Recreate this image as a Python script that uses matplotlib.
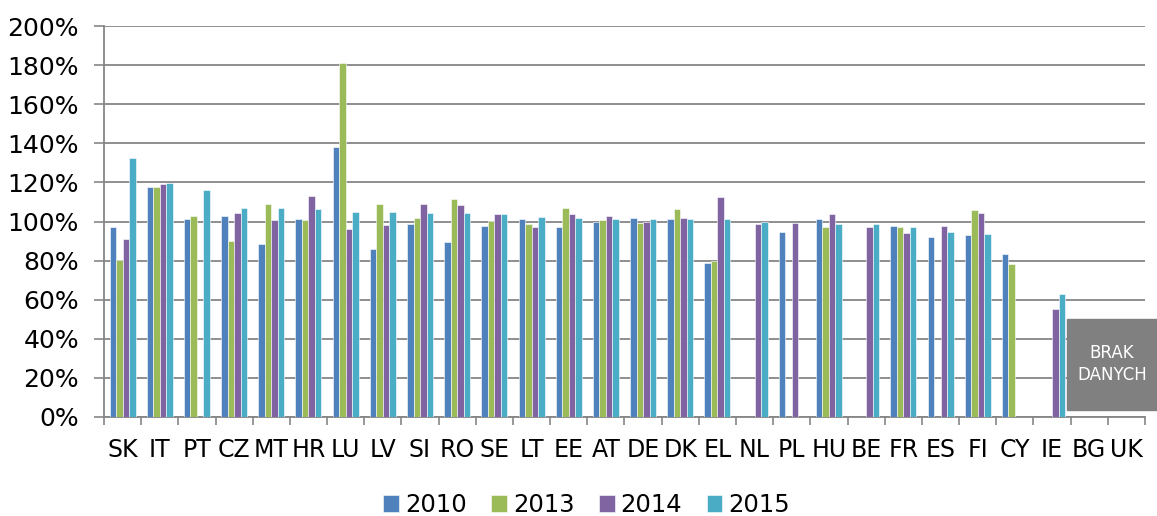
import numpy as np
import matplotlib.pyplot as plt
from matplotlib.patches import Rectangle

countries = ["SK", "IT", "PT", "CZ", "MT", "HR", "LU", "LV", "SI", "RO", "SE",
             "LT", "EE", "AT", "DE", "DK", "EL", "NL", "PL", "HU", "BE", "FR",
             "ES", "FI", "CY", "IE", "BG", "UK"]
nan = np.nan
v2010 = [97.3, 117.7, 101.4, 102.9, 88.3, 101.5, 138.1, 86.1, 98.6, 89.5, 97.6,
         101.5, 97.3, 100.0, 101.9, 101.4, 78.6, nan, 94.7, 101.4, nan, 97.8,
         92.2, 92.9, 83.5, nan, nan, nan]
v2013 = [80.4, 117.7, 102.7, 89.8, 109.2, 100.9, 181.1, 109.0, 102.0, 111.7, 100.5,
         98.5, 107.1, 100.7, 99.3, 106.6, 79.8, nan, nan, 97.4, nan, 97.1,
         nan, 106.0, 78.1, nan, nan, nan]
v2014 = [91.3, 119.0, nan, 104.4, 101.0, 113.1, 96.4, 98.1, 108.7, 108.3, 103.6,
         97.1, 103.9, 102.6, 100.0, 101.9, 112.6, 98.6, 99.0, 103.9, 97.4, 93.9,
         97.6, 104.3, nan, 55.3, nan, nan]
v2015 = [132.5, 119.7, 116.0, 107.0, 107.0, 106.6, 105.1, 105.1, 104.6, 104.4, 103.6,
         102.2, 101.7, 101.5, 101.4, 101.4, 101.2, 99.8, nan, 98.5, 98.5, 97.3,
         94.4, 93.7, nan, 62.9, nan, nan]
years = ["2010", "2013", "2014", "2015"]
colors = ["#4F81BD", "#9BBB59", "#8064A2", "#4BACC6"]

fig = plt.figure(figsize=(11.57, 5.16), dpi=100)
ax = fig.add_axes([104 / 1157, 1 - 417 / 516, 1041 / 1157, 391 / 516])

x = np.arange(len(countries))
w = 0.175
for i, (vals, col, lab) in enumerate(zip([v2010, v2013, v2014, v2015], colors, years)):
    ax.bar(x + (i - 1.5) * w, vals, w, color=col, label=lab,
           edgecolor="white", linewidth=0.4, zorder=3)

ax.set_xlim(-0.5, len(countries) - 0.5)
ax.set_ylim(0, 200)
ax.set_yticks(np.arange(0, 201, 20))
ax.set_yticklabels([f"{t}%" for t in range(0, 201, 20)], fontsize=18)
ax.set_xticks(x)
ax.set_xticklabels(countries, fontsize=17)
ax.set_xticks(np.arange(-0.5, len(countries), 1), minor=True)
ax.tick_params(axis="x", which="major", length=0, pad=15)
ax.tick_params(axis="x", which="minor", length=6, color="#868686", width=1.2)
ax.tick_params(axis="y", length=7, color="#868686", width=1.2, pad=11)
ax.grid(axis="y", color="#868686", linewidth=1.3, zorder=0)
for s in ["top", "right"]:
    ax.spines[s].set_visible(False)
for s in ["left", "bottom"]:
    ax.spines[s].set_color("#868686")
    ax.spines[s].set_linewidth(1.3)

fig.legend(loc="center", bbox_to_anchor=(0.507, 1 - 505 / 516), ncol=4, frameon=False,
           fontsize=17.5, handlelength=0.65, handleheight=0.65, handletextpad=0.25,
           columnspacing=1.0)

fig.patches.append(Rectangle((1067 / 1157, 1 - 410 / 516), 90 / 1157, 91 / 516,
                             transform=fig.transFigure, color="#808080", zorder=5))
fig.text(1112 / 1157, 1 - 364 / 516, "BRAK\nDANYCH", color="white", fontsize=12,
         ha="center", va="center", linespacing=1.3, zorder=6)

fig.savefig("out.png", dpi=100)
